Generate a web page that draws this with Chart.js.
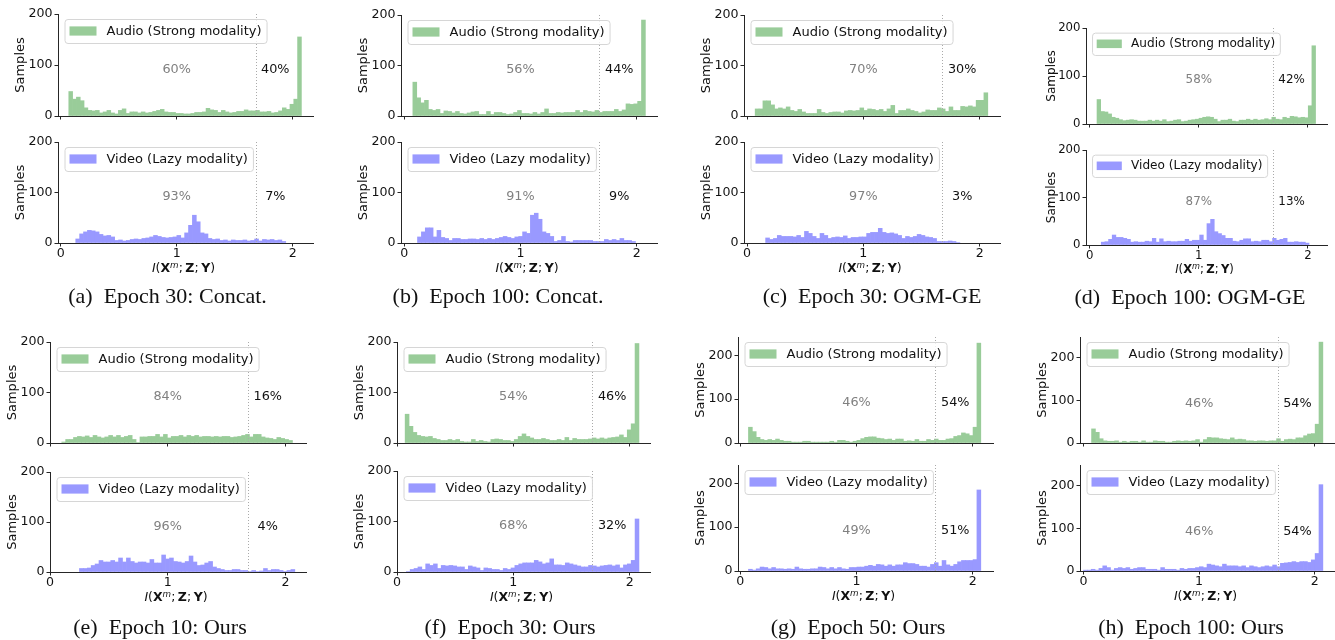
<!DOCTYPE html>
<html>
<head>
<meta charset="utf-8">
<script src="https://cdn.jsdelivr.net/npm/chart.js@4.4.1/dist/chart.umd.min.js"></script>
<style>
  html, body { margin: 0; padding: 0; background: #fff; }
  #fig { position: relative; width: 1335px; height: 640px; overflow: hidden; }
  #fig canvas { position: absolute; }
  .xlab { position: absolute; transform: translate(-50%, -50%); font-family: 'DejaVu Sans'; font-size: 12.5px; white-space: nowrap; color: #111; }
  .xlab sup { font-size: 0.7em; vertical-align: 0.45em; line-height: 0; }
  .cap { position: absolute; transform: translate(-50%, -50%); font-family: 'Liberation Serif'; font-size: 22px; white-space: nowrap; color: #111; }
</style>
</head>
<body>
<div id="fig"></div>
<script>
// ---- data ----
const X_TICKS = [0, 1, 2];
const THRESHOLD = 1.68;
const captions = ['(a)\u2002Epoch 30: Concat.', '(b)\u2002Epoch 100: Concat.', '(c)\u2002Epoch 30: OGM-GE', '(d)\u2002Epoch 100: OGM-GE',
                  '(e)\u2002Epoch 10: Ours', '(f)\u2002Epoch 30: Ours', '(g)\u2002Epoch 50: Ours', '(h)\u2002Epoch 100: Ours'];
const audioLeftPct  = [60, 56, 70, 58, 84, 54, 46, 46];
const audioRightPct = [40, 44, 30, 42, 16, 46, 54, 54];
const videoLeftPct  = [93, 91, 97, 87, 96, 68, 49, 46];
const videoRightPct = [7, 9, 3, 13, 4, 32, 51, 54];
const yMax = [200, 200, 200, 200, 200, 200, 242, 248];
const yTicks = [0, 100, 200];

// histogram bin ranges [first edge, last edge]
const audioRange = [[0.07, 2.075], [0.075, 2.075], [0.07, 2.07], [0.067, 2.07], [0.1, 2.06], [0.07, 2.08], [0.07, 2.07], [0.07, 2.07]];
const videoRange = [[0.13, 1.94], [0.115, 1.99], [0.16, 1.83], [0.106, 2.01], [0.25, 2.08], [0.08, 2.08], [0.07, 2.07], [0.0, 2.07]];

// histogram counts
const audioA = [48,33,37,30,16,11,10,11,6,8,11,6,4,11,14,5,8,8,6,8,6,7,9,11,13,8,7,7,5,5,4,4,5,7,7,8,15,12,11,7,11,8,6,7,9,9,12,10,10,11,8,8,9,6,7,10,16,13,23,33,155];
const videoA = [8,18,22,25,24,22,17,14,15,12,5,6,4,5,7,8,7,9,10,12,15,13,11,10,11,12,15,10,20,35,55,42,20,18,9,7,8,5,6,4,6,5,5,6,4,5,8,4,7,6,7,5,6,3];
const audioB = [67,36,26,31,13,11,13,5,10,9,6,9,5,4,6,8,9,3,3,9,3,7,7,5,3,4,7,11,5,5,4,7,4,7,14,5,5,7,6,7,7,7,11,7,11,9,8,11,7,9,9,9,13,9,12,24,23,24,29,190];
const videoB = [12,22,30,30,12,25,11,9,5,9,9,7,7,8,8,7,9,7,9,7,9,11,13,11,9,12,13,22,19,55,59,47,22,19,13,3,5,13,3,2,5,5,5,5,5,3,3,3,7,5,7,5,9,5,5,3];
const audioC = [14,14,30,30,22,14,16,14,18,11,9,13,8,5,5,5,13,7,5,7,8,8,6,10,11,10,11,16,11,14,13,11,13,9,14,21,5,11,11,14,11,9,6,8,12,11,11,16,14,9,18,11,11,19,18,20,18,31,31,46];
const videoC = [10,7,9,15,13,13,13,12,15,11,23,19,13,9,19,15,9,11,12,11,14,9,11,11,12,12,19,21,21,29,21,19,20,18,15,9,13,11,13,17,15,12,11,9,3,3,3,4,3,1];
const audioD = [51,26,25,21,14,12,9,7,8,9,8,6,6,6,8,6,8,6,9,5,6,8,9,5,6,8,9,10,12,14,15,14,10,5,8,8,10,6,5,8,8,10,8,10,8,9,11,9,14,10,9,14,12,16,15,13,14,13,38,163];
const videoD = [6,7,12,21,16,16,14,12,6,7,6,6,8,7,14,6,13,7,8,7,7,8,8,12,8,10,10,21,10,45,54,28,24,20,14,14,8,7,10,13,13,7,8,7,10,10,7,14,10,12,14,6,6,7,6,6,4];
const audioE = [2,7,7,11,13,12,14,11,15,12,10,12,15,12,15,11,13,15,7,1,12,12,13,13,17,12,17,10,13,13,15,12,15,13,15,12,13,13,12,13,12,13,13,11,12,13,15,17,12,17,17,12,10,9,7,11,9,7,5];
const videoE = [7,7,8,13,16,23,20,20,23,20,28,20,28,21,18,20,20,18,25,18,18,34,26,28,21,20,18,21,32,20,13,14,18,21,10,7,5,3,3,5,5,3,3,1,3,1,2,7,3,5,5,3,1,3,5];
const audioF = [57,33,21,15,13,12,13,9,7,5,5,7,5,7,3,2,2,7,3,5,3,2,7,8,7,5,5,3,7,13,18,13,10,7,7,9,7,5,5,7,5,11,5,9,7,7,7,8,10,8,10,8,10,11,12,16,11,26,38,197];
const videoF = [1,5,7,10,5,16,13,16,7,13,12,13,12,10,10,5,12,10,8,3,8,7,5,5,3,7,5,8,13,16,18,18,18,23,20,16,18,26,14,14,13,18,16,14,12,10,10,13,12,10,12,13,14,12,14,8,14,16,23,105];
const audioG = [36,26,13,8,6,8,6,9,6,4,4,2,2,2,4,4,2,2,2,2,2,4,2,6,6,4,2,4,6,10,13,14,14,11,10,8,9,6,9,9,4,5,4,8,4,4,8,6,9,6,6,9,10,15,17,23,21,17,36,228];
const videoG = [4,2,5,9,8,5,8,5,5,4,5,4,9,5,4,4,5,5,9,8,5,8,5,8,5,4,8,8,9,9,11,13,11,15,14,11,14,11,14,14,19,17,17,15,11,11,9,15,19,11,24,14,11,15,21,24,24,24,26,185];
const audioH = [33,25,10,5,4,4,5,2,4,2,4,4,2,5,2,2,5,4,4,2,2,4,5,4,5,4,5,8,2,8,13,12,12,10,9,8,12,8,9,8,5,5,4,5,5,4,5,5,10,4,8,9,8,12,12,17,21,22,44,236];
const videoH = [2,2,4,2,6,12,8,2,6,8,6,8,4,6,8,8,4,4,4,2,8,4,4,4,2,6,4,6,6,8,10,8,16,14,12,10,16,12,12,12,10,12,8,12,10,8,10,12,10,14,10,18,19,20,22,20,22,22,20,26,41,202];

const audioCounts = [audioA, audioB, audioC, audioD, audioE, audioF, audioG, audioH];
const videoCounts = [videoA, videoB, videoC, videoD, videoE, videoF, videoG, videoH];

// ---- layout of the 8 panels (page pixels) ----
const XMAX = 2.175;
const panels = [
  { L: 58,   R: 313,  top: [14, 116],  bot: [142, 243], xmin: -0.023, s: 1,    cap: [167.5, 296] },
  { L: 401,  R: 657,  top: [15, 116],  bot: [142, 243], xmin: -0.027, s: 1,    cap: [498, 296] },
  { L: 744,  R: 1000, top: [15, 116],  bot: [142, 243], xmin: -0.026, s: 1,    cap: [872, 296] },
  { L: 1086, R: 1327, top: [28, 124],  bot: [150, 245], xmin: -0.034, s: 0.93, cap: [1190, 297] },
  { L: 50,   R: 306,  top: [342, 443], bot: [472, 572], xmin: 0,      s: 1,    cap: [160, 627] },
  { L: 397,  R: 650,  top: [342, 443], bot: [471, 572], xmin: 0,      s: 1,    cap: [510, 627] },
  { L: 738,  R: 993,  top: [337, 443], bot: [465, 571], xmin: -0.02,  s: 1,    cap: [858, 627] },
  { L: 1080, R: 1335, top: [337, 443], bot: [465, 571], xmin: -0.03,  s: 1,    cap: [1191, 627] },
];

const GREEN = '#99cc99';
const BLUE = '#9999ff';
const AXIS = '#262626';
const fig = document.getElementById('fig');

Chart.defaults.font.family = '"DejaVu Sans"';
Chart.defaults.color = '#111';

function histPoints(counts, range) {
  const w = (range[1] - range[0]) / counts.length;
  return counts.map((c, i) => ({ x: range[0] + (i + 0.5) * w, y: c }));
}

// threshold line, percentages, legend box, y title
const decor = {
  id: 'decor',
  afterDatasetsDraw(chart, args, o) {
    const { ctx, chartArea: a, scales: { x, y } } = chart;
    const s = o.s;
    ctx.save();
    const tx = Math.round(x.getPixelForValue(THRESHOLD)) + 0.5;
    ctx.strokeStyle = '#aaaaaa';
    ctx.lineWidth = 1;
    ctx.setLineDash([1, 2]);
    ctx.beginPath(); ctx.moveTo(tx, a.top); ctx.lineTo(tx, a.bottom); ctx.stroke();
    ctx.setLineDash([]);

    ctx.font = (12.8 * s) + 'px "DejaVu Sans"';
    ctx.textAlign = 'center'; ctx.textBaseline = 'middle';
    const py = y.getPixelForValue(91);
    ctx.fillStyle = '#808080';
    ctx.fillText(o.left + '%', x.getPixelForValue(1), py);
    ctx.fillStyle = '#111';
    ctx.fillText(o.right + '%', x.getPixelForValue(1.85), py);

    // legend
    ctx.font = (13 * s) + 'px "DejaVu Sans"';
    const tw = ctx.measureText(o.label).width;
    const pad = 5 * s, hl = 27 * s, gap = 10 * s;
    const bx = a.left + 6.5 * s, by = a.top + 5 * s;
    const bw = pad + hl + gap + tw + pad, bh = 24 * s;
    ctx.beginPath();
    ctx.roundRect(bx + 0.5, by + 0.5, bw, bh, 3);
    ctx.fillStyle = 'rgba(255,255,255,0.8)';
    ctx.fill();
    ctx.strokeStyle = '#d6d6d6';
    ctx.stroke();
    ctx.fillStyle = o.color;
    ctx.fillRect(bx + pad, by + bh / 2 - 4.6 * s, hl, 9.2 * s);
    ctx.fillStyle = '#111';
    ctx.textAlign = 'left';
    ctx.fillText(o.label, bx + pad + hl + gap, by + bh / 2 + 0.5);

    // y title
    ctx.translate(a.left - 37 * s, (a.top + a.bottom) / 2);
    ctx.rotate(-Math.PI / 2);
    ctx.textAlign = 'center';
    ctx.fillText('Samples', 0, 0);
    ctx.restore();
  }
};

function drawAxes(k, isAudio) {
  const g = panels[k];
  const [T, B] = isAudio ? g.top : g.bot;
  const padL = 50, padT = 10, padR = 8, padB = 22;
  const s = g.s;
  const cv = document.createElement('canvas');
  cv.width = g.R - g.L + padL + padR;
  cv.height = B - T + padT + padB;
  cv.style.left = (g.L - padL) + 'px';
  cv.style.top = (T - padT) + 'px';
  fig.appendChild(cv);

  const color = isAudio ? GREEN : BLUE;
  const counts = isAudio ? audioCounts[k] : videoCounts[k];
  const range = isAudio ? audioRange[k] : videoRange[k];

  new Chart(cv, {
    type: 'bar',
    data: {
      datasets: [{
        data: histPoints(counts, range),
        backgroundColor: color, borderWidth: 0,
        barPercentage: 1, categoryPercentage: 1, grouped: false
      }]
    },
    options: {
      responsive: false, animation: false, events: [],
      layout: { padding: { top: padT, right: padR, left: 0, bottom: 0 } },
      plugins: {
        legend: { display: false }, tooltip: { enabled: false },
        decor: {
          s, color,
          label: isAudio ? 'Audio (Strong modality)' : 'Video (Lazy modality)',
          left: isAudio ? audioLeftPct[k] : videoLeftPct[k],
          right: isAudio ? audioRightPct[k] : videoRightPct[k]
        }
      },
      scales: {
        x: {
          type: 'linear', min: g.xmin, max: XMAX, offset: false,
          afterBuildTicks: sc => { sc.ticks = X_TICKS.map(v => ({ value: v })); },
          afterFit: sc => { sc.height = padB; },
          grid: { offset: false, drawOnChartArea: false, drawTicks: true, tickLength: 3.5, color: AXIS, lineWidth: 1 },
          border: { color: AXIS, width: 1 },
          ticks: { padding: 0, maxRotation: 0, font: { size: 12.6 * s }, color: '#111',
                   callback: v => isAudio ? '' : String(v) }
        },
        y: {
          type: 'linear', min: 0, max: yMax[k],
          afterBuildTicks: sc => { sc.ticks = yTicks.map(v => ({ value: v })); },
          afterFit: sc => { sc.width = padL; },
          grid: { drawOnChartArea: false, drawTicks: true, tickLength: 3.5, color: AXIS, lineWidth: 1 },
          border: { color: AXIS, width: 1 },
          ticks: { padding: 2, font: { size: 12.6 * s }, color: '#111', callback: v => String(v) }
        }
      }
    },
    plugins: [decor]
  });

  if (!isAudio) {
    const xl = document.createElement('div');
    xl.className = 'xlab';
    xl.style.fontSize = (12.5 * s) + 'px';
    xl.style.left = ((g.L + g.R) / 2 - 2) + 'px';
    xl.style.top = (B + 24) + 'px';
    xl.innerHTML = '<i>I</i>(<b>X</b><sup><i>m</i></sup>;&#8201;<b>Z</b>;&#8201;<b>Y</b>)';
    fig.appendChild(xl);
  }
}

panels.forEach((g, k) => {
  drawAxes(k, true);
  drawAxes(k, false);
  const c = document.createElement('div');
  c.className = 'cap';
  c.style.left = g.cap[0] + 'px';
  c.style.top = g.cap[1] + 'px';
  c.textContent = captions[k];
  fig.appendChild(c);
});
</script>
</body>
</html>
